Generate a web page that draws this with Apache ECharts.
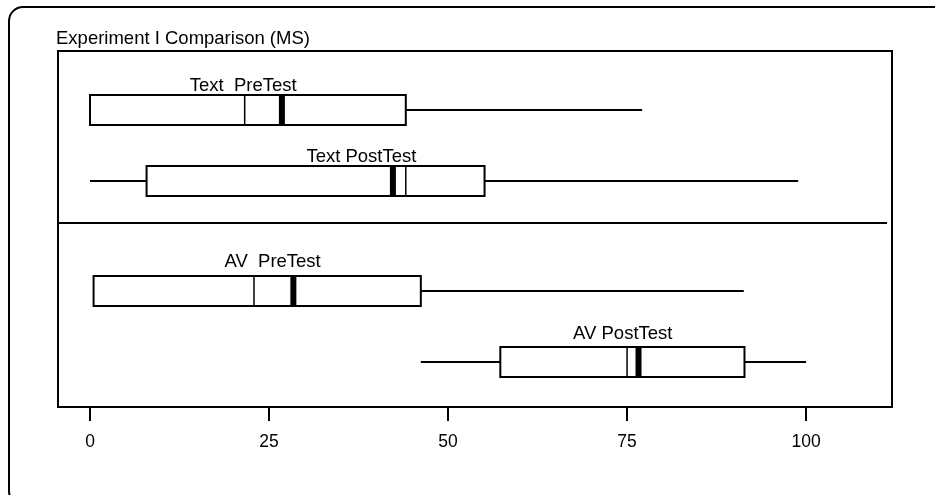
<!DOCTYPE html>
<html>
<head>
<meta charset="utf-8">
<script src="https://cdn.jsdelivr.net/npm/echarts@6/dist/echarts.min.js"></script>
<style>
  html, body { margin: 0; padding: 0; background: #fff; }
  #chart { width: 935px; height: 495px; }
</style>
</head>
<body>
<div id="chart"></div>
<script>
// data
var groups = ['Text  PreTest', 'Text PostTest', 'AV  PreTest', 'AV PostTest'];
var minVals = [0, 0, 0.5, 46.2];
var q1Vals = [0, 7.9, 0.5, 57.3];
var medianVals = [21.6, 44.1, 22.9, 75.0];
var q3Vals = [44.1, 55.1, 46.2, 91.4];
var maxVals = [77.1, 98.9, 91.3, 100];
var meanVals = [26.8, 42.3, 28.4, 76.6];
var tickVals = [0, 25, 50, 75, 100];

// where each label sits (x in axis units), and how far above the box
var labelAnchor = [21.4, 37.9, 25.5, 74.4];
var labelGap = [9, 9, 14, 13];

var FONT = 'Liberation Sans, Arial, sans-serif';
var X_MIN = -4.47, X_MAX = 112;

// [row in its panel, min, q1, median, q3, max, mean, global index]
function rowData(from, to) {
    var out = [];
    for (var i = from; i < to; i++) {
        out.push([i - from, minVals[i], q1Vals[i], medianVals[i], q3Vals[i], maxVals[i], meanVals[i], i]);
    }
    return out;
}

function renderBox(params, api) {
    var cat = api.value(0);
    var idx = api.value(7);
    var yc = api.coord([0, cat])[1];
    var h = 30;
    var top = yc - h / 2;
    var xMin = api.coord([api.value(1), cat])[0];
    var xQ1 = api.coord([api.value(2), cat])[0];
    var xMed = api.coord([api.value(3), cat])[0];
    var xQ3 = api.coord([api.value(4), cat])[0];
    var xMax = api.coord([api.value(5), cat])[0];
    var xMean = api.coord([api.value(6), cat])[0];
    var xLab = api.coord([labelAnchor[idx], cat])[0];
    var line = { stroke: '#000', lineWidth: 2 };
    var kids = [];
    if (xQ1 - xMin > 1) {
        kids.push({ type: 'line', shape: { x1: xMin, y1: yc, x2: xQ1, y2: yc }, style: line });
    }
    kids.push({ type: 'line', shape: { x1: xQ3, y1: yc, x2: xMax, y2: yc }, style: line });
    kids.push({ type: 'rect', shape: { x: xQ1, y: top, width: xQ3 - xQ1, height: h }, style: { fill: '#fff', stroke: '#000', lineWidth: 2 } });
    kids.push({ type: 'line', shape: { x1: xMed, y1: top, x2: xMed, y2: top + h }, style: { stroke: '#000', lineWidth: 1.5 } });
    kids.push({ type: 'rect', shape: { x: xMean - 3, y: top, width: 6, height: h }, style: { fill: '#000' } });
    kids.push({
        type: 'text',
        style: {
            x: xLab, y: top - labelGap[idx], text: groups[idx],
            align: 'center', verticalAlign: 'middle',
            fill: '#000', font: '18.5px ' + FONT
        }
    });
    return { type: 'group', children: kids };
}

function hiddenX(gi) {
    return { type: 'value', gridIndex: gi, min: X_MIN, max: X_MAX, show: false, splitLine: { show: false } };
}
function hiddenCat(gi, names) {
    return { type: 'category', gridIndex: gi, data: names, inverse: true, show: false };
}

var chart = echarts.init(document.getElementById('chart'));
var option = {
    animation: false,
    backgroundColor: '#fff',
    title: {
        text: 'Experiment I Comparison (MS)',
        left: 56, top: 29, padding: 0,
        textStyle: { fontFamily: FONT, fontSize: 18.5, fontWeight: 'normal', color: '#000' }
    },
    grid: [
        { left: 58, right: 43, top: 51, height: 356, show: true, borderColor: '#000', borderWidth: 2, backgroundColor: 'transparent' },
        { left: 58, right: 43, top: 74.5, height: 142 },
        { left: 58, right: 43, top: 255.5, height: 142 }
    ],
    xAxis: [
        {
            type: 'value', gridIndex: 0, min: X_MIN, max: X_MAX,
            axisLine: { show: false },
            splitLine: { show: false },
            axisTick: { show: true, length: 14, customValues: tickVals, lineStyle: { color: '#000', width: 2 } },
            axisLabel: { customValues: tickVals, margin: 26, color: '#000', fontFamily: FONT, fontSize: 17.5 }
        },
        hiddenX(1),
        hiddenX(2)
    ],
    yAxis: [
        { type: 'value', gridIndex: 0, show: false, splitLine: { show: false } },
        hiddenCat(1, groups.slice(0, 2)),
        hiddenCat(2, groups.slice(2, 4))
    ],
    graphic: [
        { type: 'rect', shape: { x: 9, y: 7, width: 940, height: 498, r: 14 }, style: { fill: 'none', stroke: '#000', lineWidth: 2 }, z: 0 },
        { type: 'line', shape: { x1: 58, y1: 223, x2: 887, y2: 223 }, style: { stroke: '#000', lineWidth: 2 }, z: 10 }
    ],
    series: [
        {
            type: 'custom', xAxisIndex: 1, yAxisIndex: 1, renderItem: renderBox,
            encode: { x: [1, 2, 3, 4, 5, 6], y: 0 }, data: rowData(0, 2)
        },
        {
            type: 'custom', xAxisIndex: 2, yAxisIndex: 2, renderItem: renderBox,
            encode: { x: [1, 2, 3, 4, 5, 6], y: 0 }, data: rowData(2, 4)
        }
    ]
};
chart.setOption(option);
</script>
</body>
</html>
